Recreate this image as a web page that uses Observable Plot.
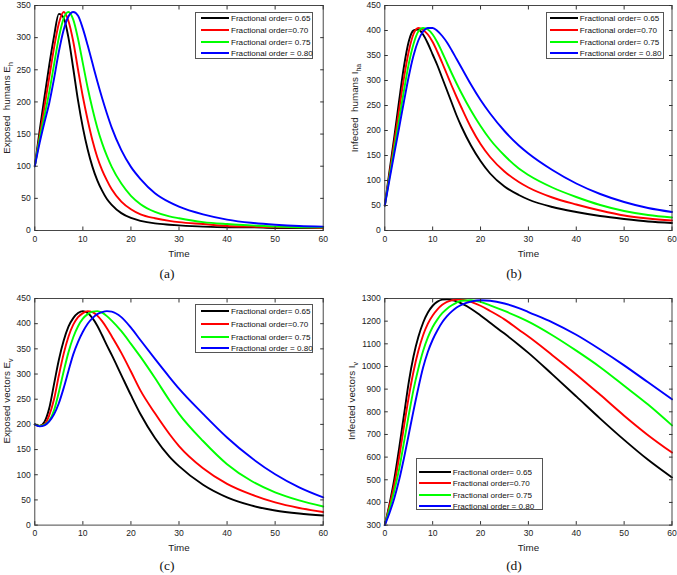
<!DOCTYPE html>
<html><head><meta charset="utf-8">
<script src="https://cdn.jsdelivr.net/npm/d3@7"></script>
<script src="https://cdn.jsdelivr.net/npm/@observablehq/plot@0.6"></script>
<style>
body{margin:0;background:#fff;}
#fig{position:relative;width:677px;height:575px;overflow:hidden;font-family:"Liberation Sans",Arial,sans-serif;color:#222;}
.panel{position:absolute;}
.panel svg{overflow:visible;}
.ylab{position:absolute;transform:translate(-50%,-50%) rotate(-90deg);white-space:nowrap;font-size:9.8px;line-height:1;color:#222;}
.ylab sub{font-size:7px;}
.cap{position:absolute;transform:translate(-50%,-50%);font-family:"Liberation Serif","Times New Roman",serif;font-size:13.5px;line-height:1;color:#111;white-space:nowrap;}
.legend{position:absolute;border:1px solid #555;background:#fff;box-sizing:border-box;}
.legend .sw{position:absolute;height:2px;}
.legend .tx{position:absolute;font-size:8.1px;white-space:nowrap;transform:translateY(-50%);color:#111;}
</style></head>
<body><div id="fig"></div>
<script>
// ---- data ----
const T = [0,1,2,3,4,5,6,7,8,9,10,11,12,13,14,15,16,18,20,22,25,28,30,35,40,45,50,55,60];
const orders = ["Fractional order= 0.65","Fractional order=0.70","Fractional order= 0.75","Fractional order = 0.80"];
const colors = ["#000000","#ff0000","#00ff00","#0000ff"];
const xTicks = [0,10,20,30,40,50,60];

// (a) Exposed humans E_h
const ehA065 = [100,155,207,257,302,337,331,300,252,202,160,126,99,78,62,49,40,27,19.5,15,11,9,8,6,5,5,4,4,4];
const ehA070 = [100,147,192,238,284,322,340,326,294,250,208,172,140,114,94,78,64,45,33,25,19,15,13,10,7,6,5,5,4];
const ehA075 = [100,142,178,215,258,300,330,340,328,298,260,222,189,160,136,116,99,73,54,41,29,22,19,13,10,8,6,5,5];
const ehA080 = [100,136,168,198,236,278,312,333,340,334,314,288,260,232,206,182,160,125,99,80,58,44,37,25,17,12,9,7,6];
const ehTicks = [0,50,100,150,200,250,300,350];

// (b) Infected humans I_ha
const ihB065 = [50,120,188,260,328,378,400,402,392,374,352,330,305,280,255,230,208,170,139,114,88,71,62,47,37,29,23,18,15];
const ihB070 = [50,113,177,242,305,358,393,405,401,392,377,357,335,312,289,267,246,206,173,147,118,97,86,66,52,40,30,24,20];
const ihB075 = [50,108,165,222,280,333,373,398,405,402,392,376,356,335,314,294,275,240,209,182,150,124,111,86,67,51,39,31,26];
const ihB080 = [50,103,155,206,258,308,350,380,398,405,405,399,389,376,360,343,326,292,261,234,199,170,154,121,94,73,57,45,37];
const ihTicks = [0,50,100,150,200,250,300,350,400,450];

// (c) Exposed vectors E_v
const evC065 = [200,197,205,232,280,328,366,394,411,421,425,421,411,396,377,357,338,298,258,220,173,136,117,80,55,39,29,23,19];
const evC070 = [200,197,200,218,250,297,340,374,398,413,421,425,423,416,405,391,375,342,305,267,222,181,157,113,82,61,45,34,26];
const evC075 = [200,197,199,207,228,264,305,343,373,395,410,419,424,425,422,415,406,385,360,334,292,248,221,167,121,88,65,49,37];
const evC080 = [200,196,198,206,220,242,272,306,339,364,384,400,411,419,423,425,424,413,392,367,330,294,271,221,174,134,101,75,55];
const evTicks = [0,50,100,150,200,250,300,350,400,450];

// (d) Infected vectors I_v
const ivD065 = [300,395,505,640,785,930,1045,1130,1193,1238,1268,1286,1295,1296,1293,1287,1278,1255,1225,1193,1145,1095,1060,965,868,770,676,588,510];
const ivD070 = [300,385,480,600,735,865,978,1068,1138,1189,1225,1252,1272,1285,1292,1295,1295,1285,1268,1245,1208,1162,1132,1050,965,875,783,697,620];
const ivD075 = [300,372,452,548,665,785,898,990,1068,1128,1174,1208,1235,1255,1270,1282,1290,1292,1285,1270,1245,1218,1198,1138,1070,997,915,832,740];
const ivD080 = [300,355,420,500,595,700,805,905,995,1065,1118,1160,1195,1222,1243,1260,1272,1286,1292,1290,1278,1258,1240,1195,1140,1075,1005,930,855];
const ivTicks = [300,400,500,600,700,800,900,1000,1100,1200,1300];

// ---- layout ----
const fig = document.getElementById("fig");
const panels = [
  {series:[ehA065,ehA070,ehA075,ehA080], ticks:ehTicks, fl:34.3, fr:322.7, ft:5, fb:230, sx:0, sw:338,
   ylab:'Exposed&nbsp; humans E<sub>h</sub>', ylx:7.5, cap:'(a)', capx:167, capy:274,
   leg:{x:195.3,y:11.7,w:118,h:47.6,rows:[5.6,17.6,29.6,40.6],s0:4.7,s1:32.7,tx:34.7}},
  {series:[ihB065,ihB070,ihB075,ihB080], ticks:ihTicks, fl:384.3, fr:671.5, ft:5, fb:230, sx:340, sw:337,
   ylab:'Infected&nbsp; humans I<sub>ha</sub>', ylx:356, cap:'(b)', capx:514, capy:274,
   leg:{x:545.5,y:11.7,w:118.3,h:47.6,rows:[5.6,17.6,29.6,40.6],s0:3.3,s1:31.3,tx:33.3}},
  {series:[evC065,evC070,evC075,evC080], ticks:evTicks, fl:34.3, fr:322.7, ft:297.7, fb:524.3, sx:0, sw:338,
   ylab:'Exposed vectors E<sub>v</sub>', ylx:7.5, cap:'(c)', capx:167, capy:566,
   leg:{x:195.3,y:304,w:118,h:49.3,rows:[6,18.7,31.7,43.3],s0:4.7,s1:32.7,tx:34.7}},
  {series:[ivD065,ivD070,ivD075,ivD080], ticks:ivTicks, fl:384.3, fr:671.5, ft:297.7, fb:524.3, sx:340, sw:337,
   ylab:'Infected vectors I<sub>v</sub>', ylx:353, cap:'(d)', capx:514, capy:566,
   leg:{x:416,y:458.3,w:127,h:51.7,rows:[12.7,24,35.7,46.7],s0:2,s1:34,tx:35.7}}
];

const MT = 10, MB = 40;
const fmt = d => String(d);
for (const p of panels) {
  const rows = p.series.flatMap((vals, i) => T.map((t, j) => ({t, v: vals[j], order: orders[i]})));
  const frameH = p.fb - p.ft;
  const ml = p.fl - p.sx, mr = p.sx + p.sw - p.fr;
  const plot = Plot.plot({
    width: p.sw, height: MT + frameH + MB,
    marginLeft: ml, marginRight: mr, marginTop: MT, marginBottom: MB,
    style: {fontFamily: '"Liberation Sans", Arial, sans-serif', fontSize: "8.6px", background: "transparent", color: "#222", overflow: "visible"},
    x: {domain: [0, 60]},
    y: {domain: [p.ticks[0], p.ticks[p.ticks.length - 1]]},
    color: {domain: orders, range: colors},
    marks: [
      Plot.line(rows, {x: "t", y: "v", z: "order", stroke: "order", strokeWidth: 1.9, curve: "monotone-x"}),
      Plot.frame({stroke: "#333", strokeWidth: 0.9}),
      Plot.axisX({ticks: xTicks, tickSize: -3.5, fill: "none", label: null, stroke: "#333"}),
      Plot.axisX({ticks: xTicks, anchor: "top", tickSize: -3.5, fill: "none", label: null, stroke: "#333"}),
      Plot.axisY({ticks: p.ticks, tickSize: -3.5, fill: "none", label: null, stroke: "#333"}),
      Plot.axisY({ticks: p.ticks, anchor: "right", tickSize: -3.5, fill: "none", label: null, stroke: "#333"}),
      Plot.axisX({ticks: xTicks, tickSize: 0, tickPadding: 5, label: null, fill: "#222", tickFormat: fmt}),
      Plot.axisY({ticks: p.ticks, tickSize: 0, tickPadding: 4, label: null, fill: "#222", tickFormat: fmt}),
      Plot.text(["Time"], {frameAnchor: "bottom", dy: 23, fontSize: 9.8, fill: "#222", lineAnchor: "middle"})
    ]
  });
  const holder = document.createElement("div");
  holder.className = "panel";
  holder.style.left = p.sx + "px";
  holder.style.top = (p.ft - MT) + "px";
  holder.appendChild(plot);
  fig.appendChild(holder);

  const yl = document.createElement("div");
  yl.className = "ylab";
  yl.innerHTML = p.ylab;
  yl.style.left = p.ylx + "px";
  yl.style.top = ((p.ft + p.fb) / 2 - 10) + "px";
  fig.appendChild(yl);

  const cap = document.createElement("div");
  cap.className = "cap";
  cap.textContent = p.cap;
  cap.style.left = p.capx + "px";
  cap.style.top = p.capy + "px";
  fig.appendChild(cap);

  const L = p.leg;
  const lg = document.createElement("div");
  lg.className = "legend";
  Object.assign(lg.style, {left: L.x + "px", top: L.y + "px", width: L.w + "px", height: L.h + "px"});
  orders.forEach((o, i) => {
    const sw = document.createElement("div");
    sw.className = "sw";
    Object.assign(sw.style, {left: L.s0 + "px", width: (L.s1 - L.s0) + "px", top: (L.rows[i] - 1) + "px", background: colors[i]});
    lg.appendChild(sw);
    const tx = document.createElement("div");
    tx.className = "tx";
    tx.textContent = o;
    Object.assign(tx.style, {left: L.tx + "px", top: L.rows[i] + "px"});
    lg.appendChild(tx);
  });
  fig.appendChild(lg);
}
</script>
</body></html>
